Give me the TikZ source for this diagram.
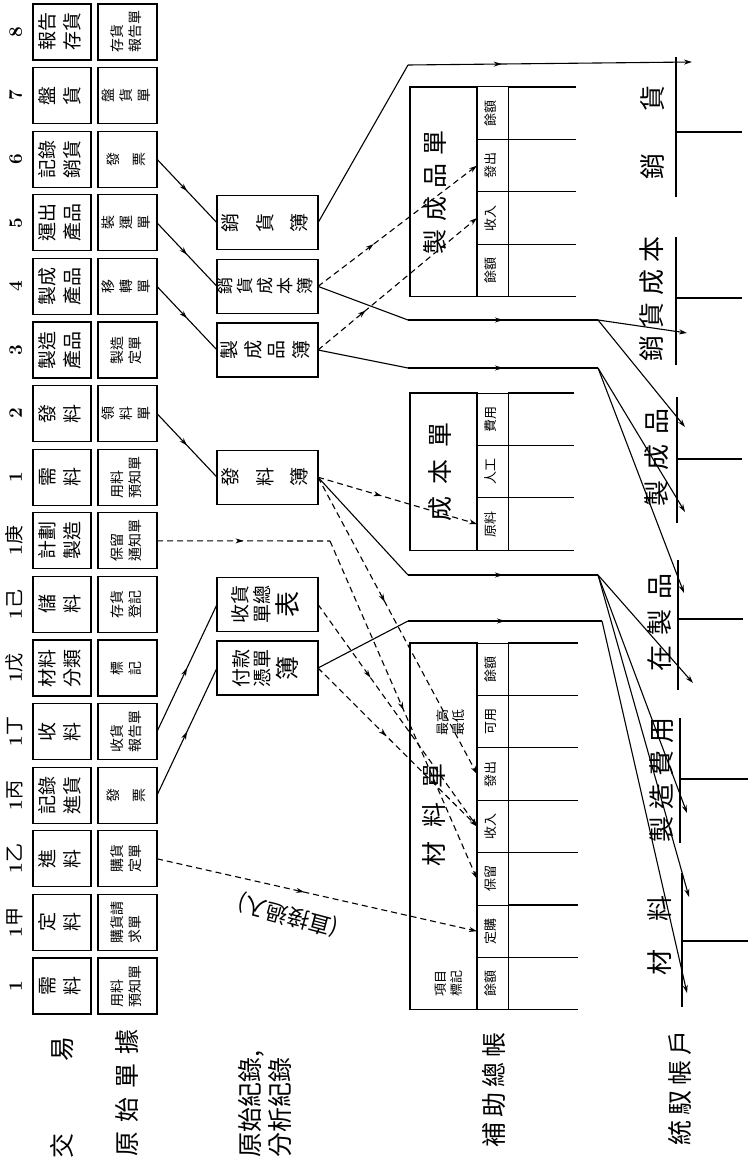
\documentclass[tikz,border=0pt]{standalone}
\usepackage{fontspec}
\usepackage{graphicx}
\newfontfamily\cjk{Noto Sans CJK TC}
\usetikzlibrary{arrows.meta,positioning,decorations.markings}
\newcommand\vt[1]{\rotatebox{90}{\begin{tabular}{@{}l@{}}#1\end{tabular}}}
\newcommand\vc[1]{\rotatebox{90}{\begin{tabular}{@{}c@{}}#1\end{tabular}}}
\newcommand\nm[1]{{\normalfont\bfseries #1}}

\begin{document}
\begin{tikzpicture}[x=1pt, y=-1pt,
  node distance=7.6pt and 7pt,
  tbox/.style={draw, line width=1.2pt, outer sep=0pt, minimum width=58pt, minimum height=56pt, inner sep=0pt, font=\cjk\fontsize{19}{25}\selectfont},
  dbox/.style={tbox, minimum width=59pt, font=\cjk\fontsize{14}{18}\selectfont},
  jbox/.style={draw, line width=1.2pt, outer sep=0pt, minimum width=101pt, minimum height=54pt, inner sep=0pt, font=\cjk\fontsize{19}{21}\selectfont},
  colno/.style={inner sep=0pt, font=\cjk\fontsize{19}{20}\selectfont},
  hcell/.style={draw, line width=1pt, outer sep=0pt, minimum width=31pt, minimum height=52.4pt, inner sep=0pt, font=\cjk\fontsize{13}{14}\selectfont},
  ltitle/.style={draw, line width=1.2pt, outer sep=0pt, minimum width=67pt, inner sep=0pt},
  big/.style={inner sep=0pt, font=\cjk\fontsize{25}{28}\selectfont},
  small/.style={inner sep=0pt, font=\cjk\fontsize{13}{16}\selectfont},
  acct/.style={inner sep=0pt, font=\cjk\fontsize{26}{30}\selectfont},
  rowlbl/.style={inner sep=0pt, font=\cjk\fontsize{25}{30}\selectfont},
  ln/.style={line width=1.1pt},
  dln/.style={line width=1.1pt, dash pattern=on 6pt off 4pt},
  tacct/.style={line width=1.2pt},
  arr/.style={-{Stealth[length=8pt,width=5pt]}},
  marr/.style={postaction={decorate}, decoration={markings, mark=at position #1 with {\arrow{Stealth[length=8pt,width=5pt]}}}},
  marr/.default=0.5
]
  \useasboundingbox (0,0) rectangle (750,1161);

  \node[tbox] (t1) at (62,986) {\vt{需\\料}};
  \node[tbox, above=of t1] (t1a) {\vt{定\\料}};
  \node[tbox, above=of t1a] (t1b) {\vt{進\\料}};
  \node[tbox, above=of t1b] (t1c) {\vt{記錄\\進貨}};
  \node[tbox, above=of t1c] (t1d) {\vt{收\\料}};
  \node[tbox, above=of t1d] (t1e) {\vt{材料\\分類}};
  \node[tbox, above=of t1e] (t1f) {\vt{儲\\料}};
  \node[tbox, above=of t1f] (t1g) {\vt{計劃\\製造}};
  \node[tbox, above=of t1g] (t1r) {\vt{需\\料}};
  \node[tbox, above=of t1r] (t2) {\vt{發\\料}};
  \node[tbox, above=of t2] (t3) {\vt{製造\\產品}};
  \node[tbox, above=of t3] (t4) {\vt{製成\\產品}};
  \node[tbox, above=of t4] (t5) {\vt{運出\\產品}};
  \node[tbox, above=of t5] (t6) {\vt{記錄\\銷貨}};
  \node[tbox, above=of t6] (t7) {\vt{盤\\貨}};
  \node[tbox, above=of t7] (t8) {\vt{報告\\存貨}};

  \node[colno, left=5pt of t1] (n1) {\vt{\nm{1}}};
  \node[colno, left=5pt of t1a] (n1a) {\vt{\nm{1}甲}};
  \node[colno, left=5pt of t1b] (n1b) {\vt{\nm{1}乙}};
  \node[colno, left=5pt of t1c] (n1c) {\vt{\nm{1}丙}};
  \node[colno, left=5pt of t1d] (n1d) {\vt{\nm{1}丁}};
  \node[colno, left=5pt of t1e] (n1e) {\vt{\nm{1}戊}};
  \node[colno, left=5pt of t1f] (n1f) {\vt{\nm{1}己}};
  \node[colno, left=5pt of t1g] (n1g) {\vt{\nm{1}庚}};
  \node[colno, left=5pt of t1r] (n1r) {\vt{\nm{1}}};
  \node[colno, left=5pt of t2] (n2) {\vt{\nm{2}}};
  \node[colno, left=5pt of t3] (n3) {\vt{\nm{3}}};
  \node[colno, left=5pt of t4] (n4) {\vt{\nm{4}}};
  \node[colno, left=5pt of t5] (n5) {\vt{\nm{5}}};
  \node[colno, left=5pt of t6] (n6) {\vt{\nm{6}}};
  \node[colno, left=5pt of t7] (n7) {\vt{\nm{7}}};
  \node[colno, left=5pt of t8] (n8) {\vt{\nm{8}}};

  \node[dbox, right=of t1] (d1) {\vt{用料\\預知單}};
  \node[dbox, right=of t1a] (d1a) {\vt{購貨請\\求單}};
  \node[dbox, right=of t1b] (d1b) {\vt{購貨\\定單}};
  \node[dbox, right=of t1c] (d1c) {\vt{發\\[8pt]票}};
  \node[dbox, right=of t1d] (d1d) {\vt{收貨\\報告單}};
  \node[dbox, right=of t1e] (d1e) {\vt{標\\記}};
  \node[dbox, right=of t1f] (d1f) {\vt{存貨\\登記}};
  \node[dbox, right=of t1g] (d1g) {\vt{保留\\通知單}};
  \node[dbox, right=of t1r] (d1r) {\vt{用料\\預知單}};
  \node[dbox, right=of t2] (d2) {\vt{領\\料\\單}};
  \node[dbox, right=of t3] (d3) {\vt{製造\\定單}};
  \node[dbox, right=of t4] (d4) {\vt{移\\轉\\單}};
  \node[dbox, right=of t5] (d5) {\vt{裝\\運\\單}};
  \node[dbox, right=of t6] (d6) {\vt{發\\[8pt]票}};
  \node[dbox, right=of t7] (d7) {\vt{盤\\貨\\單}};
  \node[dbox, right=of t8] (d8) {\vt{存貨\\報告單}};

  \node[jbox, right=60pt of d5] (xs) {\vt{銷\\[12pt]貨\\[12pt]簿}};
  \node[jbox, right=60pt of d4, font=\cjk\fontsize{17}{19}\selectfont] (xcs) {\vt{銷\\貨\\成\\本\\簿}};
  \node[jbox, right=60pt of d3] (xfg) {\vt{製\\[2pt]成\\[2pt]品\\[2pt]簿}};
  \node[jbox, right=60pt of d1r] (xmi) {\vt{發\\[12pt]料\\[12pt]簿}};
  \node[jbox, right=60pt of d1f] (xrr) {\vc{收貨\\單總\\{\fontsize{26}{26}\selectfont 表}}};
  \node[jbox, right=60pt of d1e] (xvr) {\vc{付款\\憑單\\{\fontsize{24}{26}\selectfont 簿}}};

  \node[ltitle, minimum height=366.8pt, anchor=north west] (mt) at (410,643) {};
  \node[hcell, anchor=north west] (m1) at (477,643) {\vt{餘額}};
  \node[hcell, below=0pt of m1] (m2) {\vt{可用}};
  \node[hcell, below=0pt of m2] (m3) {\vt{發出}};
  \node[hcell, below=0pt of m3] (m4) {\vt{收入}};
  \node[hcell, below=0pt of m4] (m5) {\vt{保留}};
  \node[hcell, below=0pt of m5] (m6) {\vt{定購}};
  \node[hcell, below=0pt of m6] (m7) {\vt{餘額}};
  \draw[ln] (m1.north east) -- ++(70,0) (m1.south east) -- ++(70,0) (m2.south east) -- ++(70,0)
    (m3.south east) -- ++(70,0) (m4.south east) -- ++(70,0) (m5.south east) -- ++(70,0)
    (m6.south east) -- ++(70,0) (m7.south east) -- ++(70,0);
  \node[big] (mtt) at (437,815) {\vt{材\hspace{14pt}料\hspace{14pt}單}};
  \node[small] (mtk) at (450,983) {\vt{項目\\標記}};
  \node[small] (mtm) at (452,722) {\vt{最高\\最低}};

  \node[ltitle, minimum height=157.2pt, anchor=north west] (ct) at (410,393) {};
  \node[hcell, anchor=north west] (c1) at (477,393) {\vt{費用}};
  \node[hcell, below=0pt of c1] (c2) {\vt{人工}};
  \node[hcell, below=0pt of c2] (c3) {\vt{原料}};
  \draw[ln] (c1.north east) -- ++(66,0) (c1.south east) -- ++(66,0) (c2.south east) -- ++(66,0)
    (c3.south east) -- ++(66,0);
  \node[big] (ctt) at (443,472) {\vt{成\hspace{12pt}本\hspace{12pt}單}};

  \node[ltitle, minimum height=209.6pt, anchor=north west] (gt) at (410,87) {};
  \node[hcell, anchor=north west] (p1) at (477,87) {\vt{餘額}};
  \node[hcell, below=0pt of p1] (p2) {\vt{發出}};
  \node[hcell, below=0pt of p2] (p3) {\vt{收入}};
  \node[hcell, below=0pt of p3] (p4) {\vt{餘額}};
  \draw[ln] (p1.north east) -- ++(68,0) (p1.south east) -- ++(68,0) (p2.south east) -- ++(68,0)
    (p3.south east) -- ++(68,0) (p4.south east) -- ++(68,0);
  \node[big] (gtt) at (438,192) {\vt{製\hspace{8pt}成\hspace{8pt}品\hspace{8pt}單}};

  \draw[tacct] (676,57) -- (676,197) (676,132) -- (742,132);
  \node[acct] (asal) at (656,132) {\vt{銷\hspace{42pt}貨}};
  \draw[tacct] (676,237) -- (676,365) (676,298) -- (742,298);
  \node[acct] (acogs) at (655,299) {\vt{銷\hspace{7pt}貨\hspace{7pt}成\hspace{7pt}本}};
  \draw[tacct] (677,397) -- (677,523) (677,459) -- (742,459);
  \node[acct] (afg) at (660,457) {\vt{製\hspace{10pt}成\hspace{10pt}品}};
  \draw[tacct] (678,560) -- (678,690) (678,619) -- (743,619);
  \node[acct] (awip) at (663,622) {\vt{在\hspace{10pt}製\hspace{10pt}品}};
  \draw[tacct] (680,718) -- (680,843) (680,779) -- (748,779);
  \node[acct] (amoh) at (665,780) {\vt{製\hspace{7pt}造\hspace{7pt}費\hspace{7pt}用}};
  \draw[tacct] (682,873) -- (682,1007) (682,941) -- (748,941);
  \node[acct] (amat) at (663,935) {\vt{材\hspace{28pt}料}};

  \node[rowlbl] (r1) at (65,1097) {\vt{交\hspace{72pt}易}};
  \node[rowlbl] (r2) at (130,1093) {\vt{原\hspace{9pt}始\hspace{9pt}單\hspace{9pt}據}};
  \node[rowlbl, anchor=south] (r3) at (268,1158) {\vt{原始紀錄,\\分析紀錄}};
  \node[rowlbl] (r4) at (497,1090) {\vt{補\hspace{5pt}助\hspace{5pt}總\hspace{5pt}帳}};
  \node[rowlbl] (r5) at (683,1088) {\vt{統\hspace{5pt}馭\hspace{5pt}帳\hspace{5pt}戶}};

  \coordinate (sa) at (408,65);
  \coordinate (salcr) at (692,62);
  \coordinate (cb) at (408,320);
  \coordinate (cc) at (598,320);
  \coordinate (cogsdr) at (687,333);
  \coordinate (fgcr) at (685,427);
  \coordinate (fa) at (408,368);
  \coordinate (fb) at (598,368);
  \coordinate (fgdr) at (685,512);
  \coordinate (wipcr) at (684,593);
  \coordinate (ma) at (408,575);
  \coordinate (mb) at (598,575);
  \coordinate (wipdr) at (693,683);
  \coordinate (mohdr) at (687,813);
  \coordinate (matcr) at (689,897);
  \coordinate (va) at (408,621);
  \coordinate (vb) at (602,621);
  \coordinate (matdr) at (687,993);
  \coordinate (ra) at (330,541);

  \draw[ln, marr] (d6.east) -- (xs.west);
  \draw[ln, marr] (d5.east) -- (xcs.west);
  \draw[ln, marr] (d4.east) -- (xfg.west);
  \draw[ln, marr] (d2.east) -- (xmi.west);
  \draw[ln, marr] (d1d.east) -- (xrr.west);
  \draw[ln, marr] (d1c.east) -- (xvr.west);

  \draw[ln] (xs.east) -- (sa);
  \draw[ln, marr=0.33, arr] (sa) -- (salcr);

  \draw[ln] (xcs.east) -- (cb);
  \draw[ln, marr] (cb) -- (cc);
  \draw[ln, arr] (cc) -- (cogsdr);
  \draw[ln, arr] (cc) -- (fgcr);
  \draw[dln, marr=0.35, arr] (xcs.east) -- (p2.west);

  \draw[ln] (xfg.east) -- (fa);
  \draw[ln, marr] (fa) -- (fb);
  \draw[ln, arr] (fb) -- (fgdr);
  \draw[ln, arr] (fb) -- (wipcr);
  \draw[dln, marr=0.3, arr] (xfg.east) -- (p3.west);

  \draw[ln] (xmi.east) -- (ma);
  \draw[ln, marr] (ma) -- (mb);
  \draw[ln, arr] (mb) -- (wipdr);
  \draw[ln, arr] (mb) -- (mohdr);
  \draw[ln, arr] (mb) -- (matcr);
  \draw[dln, marr=0.4, arr] (xmi.east) -- (c3.west);
  \draw[dln, marr=0.42, arr] (xmi.east) -- (m3.west);

  \draw[dln, marr=0.33, arr] (xrr.east) -- (m4.west);
  \draw[ln] (xvr.east) -- (va);
  \draw[ln, marr] (va) -- (vb);
  \draw[ln, arr] (vb) -- (matdr);
  \draw[dln, marr=0.43, arr] (xvr.east) -- (m4.west);

  \draw[dln, marr] (d1g.east) -- (ra);
  \draw[dln, marr, arr] (ra) -- (m5.west);
  \draw[dln, marr=0.46, arr] (d1b.east) -- (m6.west);
  \node[inner sep=0pt, rotate=165, font=\cjk\fontsize{22}{24}\selectfont] (dlbl) at (288,915) {(直接過入)};
\end{tikzpicture}
\end{document}
